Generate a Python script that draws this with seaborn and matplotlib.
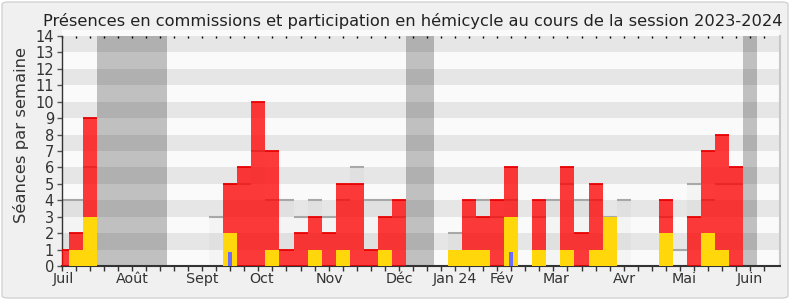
import matplotlib
matplotlib.use("Agg")
import matplotlib.pyplot as plt
import seaborn as sns
import numpy as np
import pandas as pd
from matplotlib.patches import FancyBboxPatch

# ---------------- data ----------------
weeks = list(range(51))
commission = [1, 2, 9, 0, 0, 0, 0, 0, 0, 0, 0, 0, 5, 6, 10, 7, 1, 2, 3, 2, 5, 5, 1, 3, 4,
              0, 0, 0, 0, 4, 3, 4, 6, 0, 4, 0, 6, 2, 5, 0, 0, 0, 0, 4, 0, 3, 7, 8, 6, 0, 0]
hemicycle = [0, 1, 3, 0, 0, 0, 0, 0, 0, 0, 0, 0, 2, 0, 0, 1, 0, 0, 1, 0, 1, 0, 0, 1, 0,
             0, 0, 0, 1, 1, 1, 0, 3, 0, 1, 0, 1, 0, 1, 3, 0, 0, 0, 2, 0, 0, 2, 1, 0, 0, 0]
median = [4, 4, 6, 0, 0, 0, 0, 0, 0, 0, 0, 3, 5, 5, 7, 4, 4, 3, 4, 3, 4, 6, 4, 4, 3,
          0, 0, 0, 2, 3, 4, 3, 4, 0, 3, 4, 5, 4, 4, 3, 4, 0, 0, 3, 1, 5, 4, 5, 5, 0, 0]
questions = [0, 0, 0, 0, 0, 0, 0, 0, 0, 0, 0, 0, 0.85, 0, 0, 0, 0, 0, 0, 0, 0, 0, 0, 0, 0,
             0, 0, 0, 0, 0, 0, 0, 0.85, 0, 0, 0, 0, 0, 0, 0, 0, 0, 0, 0, 0, 0, 0, 0, 0, 0, 0]
vacation_weeks = [3, 4, 5, 6, 7, 25, 26, 49]
vacation_top = [14, 14, 14, 14, 14, 14, 14, 14]
month_labels = ["Juil", "Août", "Sept", "Oct", "Nov", "Déc", "Jan 24", "Fév", "Mar", "Avr", "Mai", "Juin"]
month_pos = [0.1, 5.0, 10.0, 14.2, 19.05, 24.05, 28.0, 31.3, 35.2, 40.05, 44.3, 49.0]
y_ticks = list(range(15))

df = pd.DataFrame({"week": weeks, "commission": commission, "hemicycle": hemicycle,
                   "median": median, "questions": questions})

plt.rcParams["font.family"] = ["DejaVu Sans"]

W, H = 790, 300
fig = plt.figure(figsize=(W / 100, H / 100), dpi=100)
fig.patch.set_facecolor("white")
fig.patches.append(FancyBboxPatch((2 / W, 2 / H), 1 - 4 / W, 1 - 4 / H,
                                  boxstyle="round,pad=0,rounding_size=0.008",
                                  transform=fig.transFigure, facecolor="#f0f0f0",
                                  edgecolor="#d2d2d2", lw=1, zorder=-10))

ax = fig.add_axes([61.7 / W, 34 / H, 718.6 / W, 235.8 / H])
ax.set_facecolor("#fafafa")
for k in range(1, 14, 2):
    ax.axhspan(k, k + 1, color="#e6e6e6", lw=0, zorder=0)

common = dict(native_scale=True, errorbar=None, saturation=1, linewidth=0, ax=ax)

# vacations
sns.barplot(x=vacation_weeks, y=vacation_top, width=1, color="black", alpha=0.23,
            zorder=1, **common)
# median
sns.barplot(data=df, x="week", y="median", width=1, color="black", alpha=0.025,
            zorder=2, **common)
m = df[df["median"] > 0]
ax.hlines(m["median"], m["week"] - 0.5, m["week"] + 0.5, color="#a8a8a8", lw=1.5, zorder=2.5)
# commissions
sns.barplot(data=df, x="week", y="commission", width=1, color="#ff0000", alpha=0.77,
            zorder=3, **common)
c = df[df["commission"] > 0]
ax.hlines(c["commission"], c["week"] - 0.5, c["week"] + 0.5, color="#e80000", lw=1.3, zorder=3.5)
# hemicycle
sns.barplot(data=df, x="week", y="hemicycle", width=1, color="#ffd70a", zorder=4, **common)
# questions
sns.barplot(data=df, x="week", y="questions", width=0.28, color="#6b6bff", zorder=5, **common)

ax.set_xlim(0.08, 51.15)
ax.set_ylim(0, 14.35)
ax.set_xlabel("")
ax.set_ylabel("")

ax.xaxis.remove_overlapping_locs = False
ax.set_xticks(weeks)
ax.set_xticklabels([])
ax.set_xticks(month_pos, minor=True)
ax.set_xticklabels(month_labels, minor=True)
ax.tick_params(axis="x", which="major", length=3.3, width=1, color="#333333", direction="out")
ax.tick_params(axis="x", which="minor", length=0, pad=4.5, labelsize=10.3, labelcolor="#333333")
ax.set_yticks(y_ticks)
ax.set_yticklabels([str(v) for v in y_ticks])
ax.tick_params(axis="y", length=3.6, width=1, color="#555555", pad=2, labelsize=10.5,
               labelcolor="#333333")

sec = ax.secondary_xaxis(14 / 14.35)
sec.set_xticks(weeks)
sec.set_xticklabels([])
sec.tick_params(length=1.5, width=1, color="black", direction="in")
for s in sec.spines.values():
    s.set_visible(False)

ax.spines["top"].set_visible(False)
ax.spines["left"].set_bounds(0, 14)
ax.spines["left"].set_color("#333333")
ax.spines["left"].set_linewidth(1)
ax.spines["bottom"].set_color("#333333")
ax.spines["bottom"].set_linewidth(1.5)
ax.spines["right"].set_bounds(0, 14)
ax.spines["right"].set_color("#c8c8c8")
ax.spines["right"].set_linewidth(1.5)

fig.text(413 / W, 1 - 26 / H,
         "Présences en commissions et participation en hémicycle au cours de la session 2023-2024",
         ha="center", va="baseline", fontsize=11.7, color="#222222")
fig.text(21 / W, 1 - 135 / H, "Séances par semaine", rotation=90, ha="center", va="center",
         fontsize=11.8, color="#333333")

fig.savefig("out.png", dpi=100, facecolor=fig.get_facecolor())
